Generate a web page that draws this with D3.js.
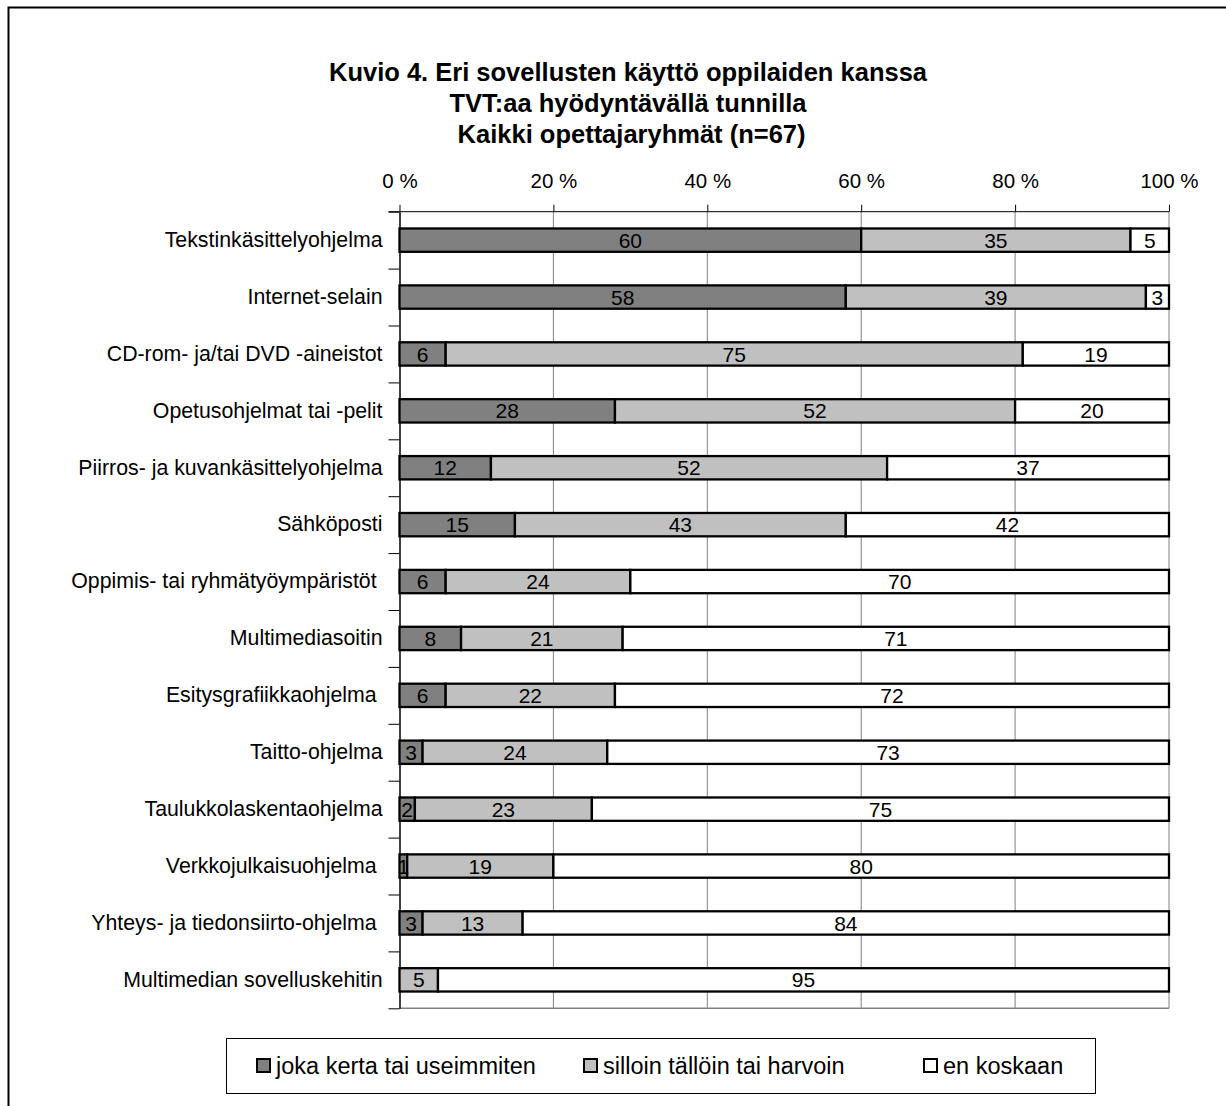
<!DOCTYPE html>
<html>
<head>
<meta charset="utf-8">
<script src="https://cdn.jsdelivr.net/npm/d3@7"></script>
<style>
  body { margin: 0; background: #fff; }
  svg text { font-family: Arial, "Liberation Sans", sans-serif; fill: #000; }
</style>
</head>
<body>
<svg id="chart"></svg>
<script>
const categories = [
  "Tekstinkäsittelyohjelma",
  "Internet-selain",
  "CD-rom- ja/tai DVD -aineistot",
  "Opetusohjelmat tai -pelit",
  "Piirros- ja kuvankäsittelyohjelma",
  "Sähköposti",
  "Oppimis- tai ryhmätyöympäristöt ",
  "Multimediasoitin",
  "Esitysgrafiikkaohjelma ",
  "Taitto-ohjelma",
  "Taulukkolaskentaohjelma",
  "Verkkojulkaisuohjelma ",
  "Yhteys- ja tiedonsiirto-ohjelma ",
  "Multimedian sovelluskehitin"
];
const often = [60, 58, 6, 28, 12, 15, 6, 8, 6, 3, 2, 1, 3, 0];
const sometimes = [35, 39, 75, 52, 52, 43, 24, 21, 22, 24, 23, 19, 13, 5];
const never = [5, 3, 19, 20, 37, 42, 70, 71, 72, 73, 75, 80, 84, 95];
const seriesNames = ["joka kerta tai useimmiten", "silloin tällöin tai harvoin", "en koskaan"];
const seriesColors = ["#808080", "#c0c0c0", "#ffffff"];
const tickValues = [0, 0.2, 0.4, 0.6, 0.8, 1];
const titleLines = [
  "Kuvio 4. Eri sovellusten käyttö oppilaiden kanssa",
  "TVT:aa hyödyntävällä tunnilla",
  " Kaikki opettajaryhmät (n=67)"
];

const width = 1226, height = 1106;
const plot = { left: 399.5, right: 1169, top: 211.7, bottom: 1008.3 };

const svg = d3.select("#chart").attr("width", width).attr("height", height);

// outer frame (only top and left edges visible)
svg.append("rect")
  .attr("x", 8.5).attr("y", 7.5)
  .attr("width", 1240).attr("height", 1120)
  .attr("fill", "none").attr("stroke", "#000").attr("stroke-width", 2);

svg.append("g").selectAll("text")
  .data(titleLines)
  .join("text")
  .attr("x", 628)
  .attr("y", (d, i) => 81 + i * 31)
  .attr("text-anchor", "middle")
  .attr("font-size", "25.5px")
  .attr("font-weight", "bold")
  .style("white-space", "pre")
  .text(d => d);

const x = d3.scaleLinear().domain([0, 1]).range([plot.left, plot.right]);
const y = d3.scaleBand().domain(categories).range([plot.top, plot.bottom])
  .paddingInner(0.59).paddingOuter(0.295);
const yEdge = d3.scaleLinear().domain([0, categories.length]).range([plot.top, plot.bottom]);

// gridlines
svg.append("g").selectAll("line")
  .data(tickValues.slice(1))
  .join("line")
  .attr("x1", d => x(d)).attr("x2", d => x(d))
  .attr("y1", plot.top).attr("y2", plot.bottom)
  .attr("stroke", "#808080").attr("stroke-width", 1);
svg.append("line")
  .attr("x1", plot.left).attr("x2", plot.right)
  .attr("y1", plot.bottom).attr("y2", plot.bottom)
  .attr("stroke", "#808080").attr("stroke-width", 1.5);

// top axis
const xAxis = svg.append("g")
  .attr("transform", `translate(0,${plot.top})`)
  .call(d3.axisTop(x).tickValues(tickValues).tickFormat(d => Math.round(d * 100) + " %")
    .tickSize(7).tickSizeOuter(0).tickPadding(17));
xAxis.select(".domain").attr("stroke", "#000").attr("d", `M${plot.left - 11},0H${plot.right}`);
xAxis.selectAll(".tick line").attr("stroke", "#000");
xAxis.selectAll("text").attr("font-size", "20.5px").attr("fill", "#000");

// left axis ticks at category boundaries
const edgeAxis = svg.append("g")
  .attr("transform", `translate(${plot.left},0)`)
  .call(d3.axisLeft(yEdge).tickValues(d3.range(categories.length + 1)).tickFormat("")
    .tickSize(11).tickSizeOuter(0));
edgeAxis.select(".domain").attr("stroke", "#000").attr("stroke-width", 1.5);
edgeAxis.selectAll(".tick line").attr("stroke", "#000");

// category labels
const catAxis = svg.append("g")
  .attr("transform", `translate(${plot.left},0)`)
  .call(d3.axisLeft(y).tickSize(0).tickPadding(17));
catAxis.select(".domain").remove();
catAxis.selectAll("text").attr("font-size", "21.3px").attr("fill", "#000").style("white-space", "pre");

// stacked percent data
const rows = categories.map((c, i) => {
  const vals = [often[i], sometimes[i], never[i]];
  const total = d3.sum(vals);
  let acc = 0;
  return vals.map((v, k) => {
    const seg = { cat: c, k, v, x0: acc / total, x1: (acc + v) / total };
    acc += v;
    return seg;
  });
});
const segs = rows.flat().filter(d => d.v > 0);

svg.append("g").selectAll("rect")
  .data(segs)
  .join("rect")
  .attr("x", d => x(d.x0))
  .attr("y", d => y(d.cat))
  .attr("width", d => x(d.x1) - x(d.x0))
  .attr("height", y.bandwidth())
  .attr("fill", d => seriesColors[d.k])
  .attr("stroke", "#000")
  .attr("stroke-width", 2.3);

svg.append("g").selectAll("text")
  .data(segs)
  .join("text")
  .attr("x", d => (x(d.x0) + x(d.x1)) / 2)
  .attr("y", d => y(d.cat) + y.bandwidth() / 2)
  .attr("dy", "0.36em")
  .attr("text-anchor", "middle")
  .attr("font-size", "21px")
  .text(d => d.v);

// legend
const legend = svg.append("g");
legend.append("rect")
  .attr("x", 226.5).attr("y", 1038.5).attr("width", 869).attr("height", 55)
  .attr("fill", "#fff").attr("stroke", "#000").attr("stroke-width", 1);
const legendX = [257, 584, 924];
const items = legend.selectAll("g")
  .data(seriesNames)
  .join("g")
  .attr("transform", (d, i) => `translate(${legendX[i]},1066)`);
items.append("rect")
  .attr("x", 0).attr("y", -7).attr("width", 13).attr("height", 13)
  .attr("fill", (d, i) => seriesColors[i])
  .attr("stroke", "#000").attr("stroke-width", 2);
items.append("text")
  .attr("x", 19).attr("dy", "0.36em")
  .attr("font-size", "23.5px")
  .text(d => d);
</script>
</body>
</html>
